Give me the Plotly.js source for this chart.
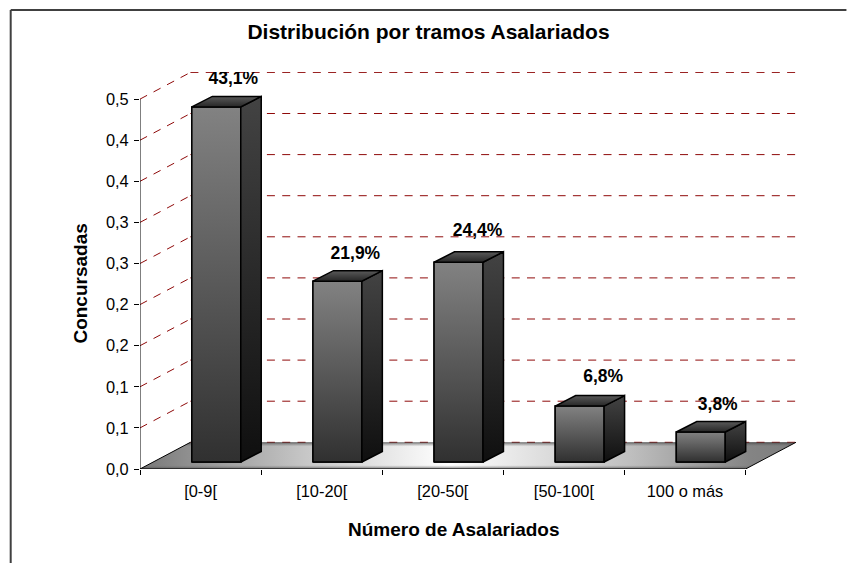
<!DOCTYPE html>
<html>
<head>
<meta charset="utf-8">
<script src="https://cdn.plot.ly/plotly-3.0.1.min.js"></script>
<style>html,body{margin:0;padding:0;background:#fff}#c{width:847px;height:563px}</style>
</head>
<body>
<div id="c"></div>
<script>
var categories = ['[0-9[', '[10-20[', '[20-50[', '[50-100[', '100 o más'];
var barValues = [0.432, 0.220, 0.243, 0.068, 0.0365];
var barLabels = ['43,1%', '21,9%', '24,4%', '6,8%', '3,8%'];
var yTickValues = [0, 0.05, 0.10, 0.15, 0.20, 0.25, 0.30, 0.35, 0.40, 0.45];
var yTickLabels = ['0,0', '0,1', '0,1', '0,2', '0,2', '0,3', '0,3', '0,4', '0,4', '0,5'];
var labelNudgeX = [-1, 0, 1, 5.5, -1];
var labelNudgeY = [-1, -1, 3, 0, -2];

var FONT = '"Liberation Sans", Arial, sans-serif';
var pxX = 121.3, pxY = 822;
var xRange = [-0.5, -0.5 + 660 / pxX], yRange = [0, 397 / pxY];
var floorDx = 50.5 / pxX, floorDy = 26.7 / pxY;
var barDx = 20.5 / pxX, barDy = 10.5 / pxY;
var barBase = 7 / pxY, barOffset = -0.072, barWidth = 49 / pxX;
var n = categories.length, xEnd = n - 0.5, x0 = -0.5;
var traces = [];
function skip(o) { o.hoverinfo = 'skip'; o.showlegend = false; return o; }

// Floor
var floorX = [x0, xEnd, xEnd + floorDx, x0 + floorDx, x0];
var floorY = [0, 0, floorDy, floorDy, 0];
traces.push(skip({
  type: 'scatter', mode: 'none', x: floorX, y: floorY, xaxis: 'x', yaxis: 'y', fill: 'toself',
  fillgradient: { type: 'horizontal', colorscale: [[0, '#787878'], [0.25, '#c6c6c6'], [0.47, '#ffffff'], [0.75, '#bebebe'], [0.93, '#848484'], [1, '#7e7e7e']] }
}));

// Dashed grid: diagonal on the side wall and horizontal on the back wall
var gx = [], gy = [];
yTickValues.forEach(function (t, i) {
  if (i > 0) { gx.push(x0, x0 + floorDx, null); gy.push(t, t + floorDy, null); }
  gx.push(x0 + floorDx, xEnd + floorDx, null); gy.push(t + floorDy, t + floorDy, null);
});
traces.push(skip({
  type: 'scatter', mode: 'lines', x: gx, y: gy, xaxis: 'x', yaxis: 'y',
  line: { color: '#8f0a0a', width: 1, dash: '8px,7.3px' }
}));

// Floor depth shading, over the grid's back line
traces.push(skip({
  type: 'scatter', mode: 'none', x: floorX, y: floorY, xaxis: 'x', yaxis: 'y', fill: 'toself',
  fillgradient: { type: 'vertical', colorscale: [[0, 'rgba(70,70,70,0.75)'], [0.14, 'rgba(120,120,120,0)'], [0.84, 'rgba(120,120,120,0)'], [1, 'rgba(50,50,50,0.7)']] }
}));

// Floor edges
traces.push(skip({
  type: 'scatter', mode: 'lines', xaxis: 'x', yaxis: 'y',
  x: [x0 + floorDx, x0, xEnd, xEnd + floorDx], y: [floorDy, 0, 0, floorDy],
  line: { color: '#000', width: 1 }
}));

// Real bars (front faces)
traces.push({
  type: 'bar', x: categories, y: barValues, base: barBase, width: barWidth, offset: barOffset,
  xaxis: 'x2', yaxis: 'y', marker: { color: '#5a5a5a', line: { color: '#000', width: 1.5 } },
  hoverinfo: 'skip', showlegend: false
});

// Shading faces
barValues.forEach(function (v, i) {
  var l = i + barOffset, r = l + barWidth, b = barBase, t = barBase + v;
  var edge = { color: '#000', width: 1.5 };
  traces.push(skip({
    type: 'scatter', mode: 'lines', fill: 'toself', xaxis: 'x3', yaxis: 'y',
    x: [l, r, r, l, l], y: [b, b, t, t, b], line: edge,
    fillgradient: { type: 'vertical', colorscale: [[0, '#303030'], [1, '#828282']] }
  }));
  traces.push(skip({
    type: 'scatter', mode: 'lines', fill: 'toself', xaxis: 'x3', yaxis: 'y',
    x: [r, r + barDx, r + barDx, r, r], y: [b, b + barDy, t + barDy, t, b], line: edge,
    fillgradient: { type: 'vertical', colorscale: [[0, '#0f0f0f'], [1, '#434343']] }
  }));
  traces.push(skip({
    type: 'scatter', mode: 'lines', fill: 'toself', xaxis: 'x3', yaxis: 'y',
    x: [l, r, r + barDx, l + barDx, l], y: [t, t, t + barDy, t + barDy, t], line: edge,
    fillgradient: { type: 'vertical', colorscale: [[0, '#262626'], [1, '#5a5a5a']] }
  }));
});

// Value labels
traces.push(skip({
  type: 'scatter', mode: 'text', xaxis: 'x3', yaxis: 'y',
  x: barValues.map(function (v, i) { return i + barOffset + barWidth / 2 + (18 + labelNudgeX[i]) / pxX; }),
  y: barValues.map(function (v, i) { return barBase + v + (28 + labelNudgeY[i]) / pxY; }),
  text: barLabels, textposition: 'middle center',
  textfont: { family: FONT, size: 17.5, color: '#000' }, texttemplate: '<b>%{text}</b>'
}));

var layout = {
  width: 847, height: 563, paper_bgcolor: '#fff', plot_bgcolor: 'rgba(0,0,0,0)',
  margin: { l: 139.5, r: 47.5, t: 72, b: 94, pad: 0 },
  font: { family: FONT, size: 16.4, color: '#000' },
  title: { text: '<b>Distribución por tramos Asalariados</b>', x: 428.5 / 847, xanchor: 'center', y: 1 - 32 / 563, yanchor: 'middle', font: { family: FONT, size: 21, color: '#000' } },
  showlegend: false,
  xaxis: { type: 'linear', range: xRange, visible: false, fixedrange: true },
  xaxis2: {
    type: 'category', overlaying: 'x', anchor: 'y', side: 'bottom', range: xRange, categoryorder: 'array', categoryarray: categories,
    tickson: 'boundaries', ticks: 'outside', ticklen: 5, tickcolor: '#000', tickwidth: 1, showgrid: false, showline: false, zeroline: false,
    ticklabelstandoff: 11,
    tickfont: { family: FONT, size: 16.4, color: '#000' }
  },
  xaxis3: { type: 'linear', overlaying: 'x', range: xRange, visible: false },
  yaxis: {
    type: 'linear', range: yRange, tickmode: 'array', tickvals: yTickValues, ticktext: yTickLabels,
    ticks: 'outside', ticklen: 5, tickcolor: '#000', tickwidth: 1, showgrid: false, showline: false, zeroline: false,
    ticklabelstandoff: 2,
    tickfont: { family: FONT, size: 16.4, color: '#000' }
  },
  barmode: 'overlay',
  annotations: [
    { text: '<b>Número de Asalariados</b>', xref: 'paper', yref: 'paper', x: (453.5 - 139.5) / 660, y: (469 - 529) / 397, xanchor: 'center', yanchor: 'middle', showarrow: false, font: { family: FONT, size: 19, color: '#000' } },
    { text: '<b>Concursadas</b>', textangle: -90, xref: 'paper', yref: 'paper', x: (79 - 139.5) / 660, y: (469 - 284) / 397, xanchor: 'center', yanchor: 'middle', showarrow: false, font: { family: FONT, size: 19, color: '#000' } }
  ],
  shapes: [
    { type: 'line', xref: 'x', yref: 'y', x0: x0, x1: x0, y0: 0, y1: yTickValues[yTickValues.length - 1], line: { color: '#000', width: 1 } },
    { type: 'line', xref: 'paper', yref: 'paper', x0: (10 - 139.5) / 660, x1: (847 - 139.5) / 660, y0: (469 - 10) / 397, y1: (469 - 10) / 397, line: { color: '#404040', width: 2 } },
    { type: 'line', xref: 'paper', yref: 'paper', x0: (10 - 139.5) / 660, x1: (10 - 139.5) / 660, y0: (469 - 10) / 397, y1: (469 - 563) / 397, line: { color: '#404040', width: 2 } }
  ]
};
Plotly.newPlot('c', traces, layout, { displayModeBar: false, staticPlot: true });
</script>
</body>
</html>
